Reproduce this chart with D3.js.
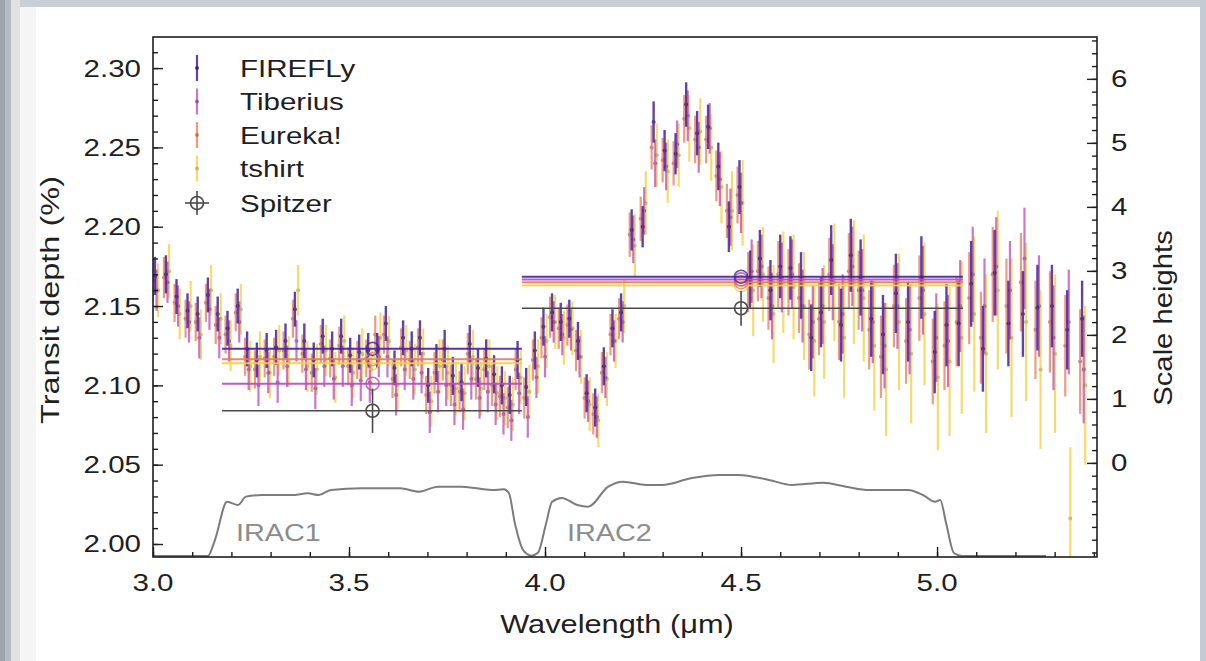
<!DOCTYPE html>
<html>
<head>
<meta charset="utf-8">
<script src="https://cdn.jsdelivr.net/npm/d3@7"></script>
<style>
  html, body { margin: 0; padding: 0; background: #ffffff; }
  svg { display: block; font-family: "Liberation Sans", Arial, Helvetica, sans-serif; }
</style>
</head>
<body>
<svg id="chart" width="1206" height="661"></svg>
<script>
// ---- spectral bins (µm) ----
const wavelengths = [
  3.005, 3.033, 3.060, 3.088, 3.114, 3.140, 3.165, 3.190, 3.216, 3.240, 3.265, 3.290, 3.314, 3.338, 3.362,
  3.386, 3.410, 3.433, 3.457, 3.480, 3.503, 3.526, 3.549, 3.572, 3.594, 3.616, 3.638, 3.660, 3.681, 3.702,
  3.723, 3.744, 3.765, 3.787, 3.808, 3.829, 3.850, 3.870, 3.890, 3.910, 3.930, 3.952, 3.974, 3.996,
  4.018, 4.040, 4.062, 4.084, 4.106, 4.128, 4.150, 4.172, 4.194,
  4.221, 4.249, 4.277, 4.305, 4.333, 4.360, 4.388, 4.416, 4.442, 4.469, 4.496, 4.523, 4.548, 4.575, 4.600,
  4.626, 4.653, 4.679, 4.704, 4.730, 4.755, 4.780, 4.805, 4.832, 4.862, 4.895, 4.926, 4.960, 4.994, 5.024,
  5.055, 5.087, 5.117, 5.147, 5.182, 5.219, 5.256, 5.293, 5.332, 5.370
];

// ---- transit depth (%) per reduction ----
const firefly = [
  2.169, 2.170, 2.156, 2.147, 2.145, 2.157, 2.145, 2.136, 2.150, 2.123, 2.116, 2.122, 2.124, 2.128, 2.148,
  2.128, 2.116, 2.131, 2.123, 2.131, 2.119, 2.121, 2.122, 2.122, 2.139, 2.111, 2.130, 2.123, 2.130, 2.100,
  2.114, 2.123, 2.106, 2.102, 2.126, 2.111, 2.117, 2.107, 2.100, 2.094, 2.116, 2.099, 2.122, 2.137,
  2.146, 2.140, 2.142, 2.128, 2.095, 2.086, 2.112, 2.136, 2.146,
  2.198, 2.200, 2.266, 2.248, 2.246, 2.277, 2.259, 2.263, 2.238, 2.200, 2.225, 2.167, 2.180, 2.160, 2.175,
  2.174, 2.163, 2.130, 2.146, 2.179, 2.138, 2.182, 2.168, 2.142, 2.132, 2.158, 2.140, 2.168, 2.121, 2.138,
  2.139, 2.164, 2.123, 2.171, 2.139, 2.145, 2.149, 2.150, 2.135, 2.142
];
const fireflyErr = [
  0.012, 0.012, 0.011, 0.011, 0.011, 0.011, 0.011, 0.011, 0.011, 0.011, 0.011, 0.011, 0.011, 0.011, 0.011,
  0.011, 0.011, 0.011, 0.011, 0.011, 0.011, 0.011, 0.011, 0.011, 0.011, 0.011, 0.011, 0.011, 0.011, 0.011,
  0.012, 0.012, 0.012, 0.012, 0.012, 0.012, 0.012, 0.012, 0.012, 0.012, 0.012, 0.012, 0.012, 0.012,
  0.012, 0.012, 0.012, 0.012, 0.012, 0.012, 0.012, 0.012, 0.012,
  0.013, 0.013, 0.013, 0.013, 0.013, 0.014, 0.014, 0.014, 0.015, 0.016, 0.017, 0.018, 0.018, 0.019, 0.020,
  0.020, 0.021, 0.021, 0.022, 0.022, 0.023, 0.023, 0.024, 0.024, 0.025, 0.025, 0.025, 0.026, 0.026, 0.026,
  0.027, 0.027, 0.027, 0.027, 0.027, 0.027, 0.027, 0.026, 0.025, 0.024
];

const tiberius = [
  2.160, 2.165, 2.150, 2.140, 2.130, 2.148, 2.130, 2.128, 2.140, 2.110, 2.100, 2.108, 2.102, 2.112, 2.128,
  2.110, 2.098, 2.112, 2.104, 2.112, 2.100, 2.103, 2.102, 2.118, 2.118, 2.094, 2.110, 2.104, 2.108, 2.083,
  2.096, 2.100, 2.088, 2.085, 2.104, 2.092, 2.096, 2.088, 2.082, 2.078, 2.095, 2.080, 2.105, 2.118,
  2.140, 2.132, 2.135, 2.118, 2.090, 2.080, 2.105, 2.128, 2.140,
  2.192, 2.210, 2.240, 2.238, 2.252, 2.270, 2.250, 2.262, 2.230, 2.206, 2.215, 2.172, 2.175, 2.150, 2.168,
  2.170, 2.150, 2.140, 2.150, 2.165, 2.145, 2.175, 2.160, 2.140, 2.125, 2.150, 2.135, 2.160, 2.130, 2.128,
  2.150, 2.170, 2.150, 2.175, 2.160, 2.180, 2.150, 2.130, 2.140, 2.110
];
const tiberiusErr = [
  0.013, 0.013, 0.013, 0.013, 0.013, 0.013, 0.013, 0.013, 0.013, 0.013, 0.013, 0.013, 0.013, 0.013, 0.013,
  0.013, 0.013, 0.013, 0.013, 0.013, 0.013, 0.013, 0.013, 0.013, 0.013, 0.013, 0.013, 0.013, 0.013, 0.013,
  0.013, 0.013, 0.013, 0.013, 0.013, 0.013, 0.013, 0.013, 0.013, 0.013, 0.013, 0.013, 0.013, 0.013,
  0.013, 0.013, 0.013, 0.013, 0.013, 0.013, 0.013, 0.013, 0.013,
  0.015, 0.015, 0.015, 0.015, 0.015, 0.016, 0.016, 0.016, 0.017, 0.018, 0.019, 0.020, 0.020, 0.021, 0.022,
  0.022, 0.023, 0.023, 0.024, 0.024, 0.025, 0.025, 0.026, 0.026, 0.027, 0.027, 0.028, 0.028, 0.028, 0.029,
  0.029, 0.030, 0.030, 0.031, 0.031, 0.032, 0.032, 0.033, 0.033, 0.034
];

const eureka = [
  2.166, 2.168, 2.152, 2.142, 2.140, 2.152, 2.138, 2.132, 2.146, 2.118, 2.110, 2.117, 2.118, 2.122, 2.142,
  2.120, 2.108, 2.126, 2.117, 2.125, 2.112, 2.116, 2.117, 2.132, 2.132, 2.104, 2.124, 2.116, 2.124, 2.094,
  2.108, 2.116, 2.100, 2.096, 2.120, 2.104, 2.110, 2.100, 2.093, 2.086, 2.110, 2.092, 2.116, 2.130,
  2.143, 2.136, 2.138, 2.122, 2.092, 2.082, 2.108, 2.132, 2.142,
  2.195, 2.205, 2.250, 2.242, 2.240, 2.268, 2.255, 2.255, 2.232, 2.210, 2.220, 2.165, 2.172, 2.155, 2.170,
  2.165, 2.155, 2.132, 2.142, 2.170, 2.140, 2.172, 2.160, 2.135, 2.118, 2.150, 2.128, 2.155, 2.115, 2.125,
  2.140, 2.155, 2.130, 2.170, 2.150, 2.165, 2.135, 2.140, 2.125, 2.115
];
const eurekaErr = [
  0.013, 0.013, 0.012, 0.012, 0.012, 0.012, 0.012, 0.012, 0.012, 0.012, 0.012, 0.012, 0.012, 0.012, 0.012,
  0.012, 0.012, 0.012, 0.012, 0.012, 0.012, 0.012, 0.012, 0.012, 0.012, 0.012, 0.012, 0.012, 0.012, 0.012,
  0.013, 0.013, 0.013, 0.013, 0.013, 0.013, 0.013, 0.013, 0.013, 0.013, 0.013, 0.013, 0.013, 0.013,
  0.013, 0.013, 0.013, 0.013, 0.013, 0.013, 0.013, 0.013, 0.013,
  0.014, 0.014, 0.014, 0.014, 0.014, 0.015, 0.015, 0.015, 0.016, 0.017, 0.018, 0.019, 0.019, 0.020, 0.021,
  0.021, 0.022, 0.022, 0.023, 0.023, 0.024, 0.024, 0.025, 0.025, 0.026, 0.026, 0.027, 0.027, 0.027, 0.028,
  0.028, 0.029, 0.029, 0.030, 0.030, 0.031, 0.031, 0.032, 0.032, 0.033
];

const tshirt = [
  2.160, 2.172, 2.145, 2.150, 2.132, 2.160, 2.142, 2.125, 2.148, 2.112, 2.118, 2.108, 2.122, 2.115, 2.160,
  2.112, 2.110, 2.122, 2.105, 2.128, 2.108, 2.120, 2.110, 2.130, 2.128, 2.100, 2.122, 2.110, 2.120, 2.090,
  2.112, 2.108, 2.098, 2.095, 2.118, 2.098, 2.112, 2.095, 2.092, 2.088, 2.105, 2.096, 2.112, 2.128,
  2.140, 2.130, 2.136, 2.118, 2.088, 2.078, 2.104, 2.128, 2.150,
  2.188, 2.215, 2.245, 2.235, 2.245, 2.262, 2.260, 2.250, 2.225, 2.210, 2.215, 2.160, 2.170, 2.145, 2.165,
  2.162, 2.150, 2.128, 2.140, 2.165, 2.130, 2.165, 2.155, 2.125, 2.110, 2.140, 2.120, 2.145, 2.105, 2.115,
  2.130, 2.145, 2.120, 2.160, 2.130, 2.140, 2.110, 2.120, 2.016, 2.100
];
const tshirtErr = [
  0.017, 0.017, 0.016, 0.016, 0.016, 0.016, 0.016, 0.016, 0.016, 0.016, 0.016, 0.016, 0.016, 0.016, 0.016,
  0.016, 0.016, 0.016, 0.016, 0.016, 0.016, 0.016, 0.016, 0.016, 0.016, 0.016, 0.016, 0.016, 0.016, 0.016,
  0.017, 0.017, 0.017, 0.017, 0.017, 0.017, 0.017, 0.017, 0.017, 0.017, 0.017, 0.017, 0.017, 0.017,
  0.017, 0.017, 0.017, 0.017, 0.017, 0.017, 0.017, 0.017, 0.017,
  0.020, 0.020, 0.020, 0.020, 0.020, 0.021, 0.021, 0.021, 0.023, 0.025, 0.027, 0.029, 0.030, 0.031, 0.032,
  0.033, 0.034, 0.035, 0.036, 0.037, 0.038, 0.039, 0.040, 0.041, 0.042, 0.043, 0.044, 0.045, 0.046, 0.047,
  0.048, 0.049, 0.050, 0.050, 0.050, 0.050, 0.050, 0.050, 0.045, 0.050
];

// ---- band-integrated depths (%) in the two IRAC bandpasses ----
const bandNames = ["IRAC1", "IRAC2"];
const bandCentre = [3.56, 4.50];
const bandStart = [3.176, 3.941];
const bandEnd = [3.941, 5.066];
const fireflyBand = [2.123, 2.1685];
const tiberiusBand = [2.101, 2.1668];
const eurekaBand = [2.1165, 2.1650];
const tshirtBand = [2.114, 2.1630];
const spitzerDepth = [2.084, 2.1486];
const spitzerErr = [0.014, 0.011];

// ---- IRAC relative spectral response ----
const irac1Wave = [3.000, 3.140, 3.158, 3.189, 3.217, 3.237, 3.278, 3.355, 3.395, 3.423, 3.454, 3.533, 3.630,
                   3.679, 3.727, 3.788, 3.865, 3.895, 3.908, 3.923, 3.944, 3.964];
const irac1Resp = [0.000, 0.000, 0.196, 0.666, 0.626, 0.728, 0.748, 0.748, 0.769, 0.748, 0.810, 0.831, 0.831,
                   0.789, 0.850, 0.850, 0.810, 0.818, 0.769, 0.405, 0.074, 0.000];
const irac2Wave = [3.964, 3.982, 4.003, 4.018, 4.043, 4.082, 4.110, 4.161, 4.199, 4.258, 4.298, 4.375, 4.444,
                   4.492, 4.571, 4.630, 4.709, 4.768, 4.827, 4.926, 4.964, 4.995, 5.008, 5.023, 5.043, 5.064, 5.278];
const irac2Resp = [0.000, 0.040, 0.405, 0.666, 0.712, 0.626, 0.605, 0.850, 0.912, 0.871, 0.871, 0.957, 0.994,
                   0.994, 0.933, 0.871, 0.899, 0.850, 0.810, 0.810, 0.748, 0.666, 0.687, 0.405, 0.037, 0.000, 0.000];

// ---- axis ticks ----
const xMajor = [3.0, 3.5, 4.0, 4.5, 5.0];
const yMajor = [2.00, 2.05, 2.10, 2.15, 2.20, 2.25, 2.30];
const shMajor = [0, 1, 2, 3, 4, 5, 6];

// ---- styling ----
const series = [
  { name: "tshirt",   vals: tshirt,   errs: tshirtErr,   band: tshirtBand,   color: "#f4cf3c", dx: 0.008,  w: 2.2, op: 0.75 },
  { name: "Eureka!",  vals: eureka,   errs: eurekaErr,   band: eurekaBand,   color: "#ec7a52", dx: -0.005, w: 2.2, op: 0.75 },
  { name: "Tiberius", vals: tiberius, errs: tiberiusErr, band: tiberiusBand, color: "#b84bb8", dx: 0.004,  w: 2.2, op: 0.75 },
  { name: "FIREFLy",  vals: firefly,  errs: fireflyErr,  band: fireflyBand,  color: "#46229c", dx: 0.0,    w: 2.4, op: 0.85 }
];
const legendOrder = ["FIREFLy", "Tiberius", "Eureka!", "tshirt"];

const W = 1206, H = 661;
const M = { left: 153, right: 1097, top: 37, bottom: 557 };
const SX = 1.23;          // horizontal text widening
const ink = "#1f1f1f";

const svg = d3.select("#chart");

// page card and side strips
svg.append("rect").attr("x", 0).attr("y", 0).attr("width", W).attr("height", H).attr("fill", "#ffffff");
svg.append("rect").attr("x", 0).attr("y", 0).attr("width", W).attr("height", 7).attr("fill", "#c9cfd6");
svg.append("rect").attr("x", 20).attr("y", 7).attr("width", 16).attr("height", H - 7).attr("fill", "#f5f5f5");
svg.append("rect").attr("x", 11).attr("y", 0).attr("width", 9).attr("height", H).attr("fill", "#e1e1e3");
svg.append("rect").attr("x", 5).attr("y", 0).attr("width", 6).attr("height", H).attr("fill", "#b3bbc5");
svg.append("rect").attr("x", 0).attr("y", 0).attr("width", 5).attr("height", H).attr("fill", "#9ea4ac");
svg.append("rect").attr("x", 1200).attr("y", 0).attr("width", 6).attr("height", H).attr("fill", "#c5cbd2");

const x = d3.scaleLinear().domain([3.0, 5.408]).range([M.left, M.right]);
const y = d3.scaleLinear().domain([1.9918, 2.3196]).range([M.bottom, M.top]);
const ySH = d3.scaleLinear().domain([-1.47, 6.654]).range([M.bottom, M.top]);
// response curves sit on the plot floor
const respBase = 1.99243, respSpan = 0.0514;

function label(parent, px, py, str, opt) {
  opt = opt || {};
  const g = parent.append("g")
    .attr("transform", `translate(${px},${py}) rotate(${opt.rotate || 0}) scale(${opt.sx || SX},1)`);
  return g.append("text")
    .attr("x", 0).attr("y", 0)
    .attr("text-anchor", opt.anchor || "start")
    .attr("font-size", opt.size || 24)
    .attr("fill", opt.fill || ink)
    .text(str);
}

const clip = svg.append("clipPath").attr("id", "plotClip")
  .append("rect").attr("x", M.left).attr("y", M.top)
  .attr("width", M.right - M.left).attr("height", M.bottom - M.top);

const plot = svg.append("g").attr("clip-path", "url(#plotClip)");

// IRAC bandpass curves
const respLine = d3.line()
  .x(d => x(d[0]))
  .y(d => y(respBase + d[1] * respSpan))
  .curve(d3.curveMonotoneX);
plot.append("path")
  .datum(d3.zip(irac1Wave, irac1Resp))
  .attr("d", respLine).attr("fill", "none").attr("stroke", "#7c7c7c").attr("stroke-width", 2);
plot.append("path")
  .datum(d3.zip(irac2Wave, irac2Resp))
  .attr("d", respLine).attr("fill", "none").attr("stroke", "#7c7c7c").attr("stroke-width", 2);

label(svg, 236, 541, bandNames[0], { fill: "#8c8c8c", size: 24, sx: 1.2 });
label(svg, 567, 541, bandNames[1], { fill: "#8c8c8c", size: 24, sx: 1.2 });

// spectra: error bars and points
series.forEach(s => {
  const g = plot.append("g").attr("opacity", s.op);
  const pts = wavelengths.map((w, i) => ({ w: w + s.dx, v: s.vals[i], e: s.errs[i] }));
  g.selectAll("line.err").data(pts).join("line")
    .attr("x1", d => x(d.w)).attr("x2", d => x(d.w))
    .attr("y1", d => y(d.v - d.e)).attr("y2", d => y(d.v + d.e))
    .attr("stroke", s.color).attr("stroke-width", s.w);
  g.selectAll("circle.pt").data(pts).join("circle")
    .attr("cx", d => x(d.w)).attr("cy", d => y(d.v)).attr("r", 2)
    .attr("fill", d3.color(s.color).darker(0.6));
});

// band-integrated depths
series.forEach(s => {
  bandNames.forEach((b, i) => {
    plot.append("line")
      .attr("x1", x(bandStart[i])).attr("x2", x(bandEnd[i]))
      .attr("y1", y(s.band[i])).attr("y2", y(s.band[i]))
      .attr("stroke", s.color).attr("stroke-width", 2).attr("opacity", 0.9);
    plot.append("circle")
      .attr("cx", x(bandCentre[i])).attr("cy", y(s.band[i])).attr("r", 6.5)
      .attr("fill", "none").attr("stroke", s.color).attr("stroke-width", 1.6).attr("opacity", 0.8);
  });
});

// Spitzer points
bandNames.forEach((b, i) => {
  const g = plot.append("g").attr("stroke", "#4a4a4a").attr("fill", "none").attr("stroke-width", 1.6);
  g.append("line").attr("x1", x(bandStart[i])).attr("x2", x(bandEnd[i]))
    .attr("y1", y(spitzerDepth[i])).attr("y2", y(spitzerDepth[i])).attr("stroke-width", 1.4);
  g.append("line").attr("x1", x(bandCentre[i])).attr("x2", x(bandCentre[i]))
    .attr("y1", y(spitzerDepth[i] - spitzerErr[i])).attr("y2", y(spitzerDepth[i] + spitzerErr[i]));
  g.append("circle").attr("cx", x(bandCentre[i])).attr("cy", y(spitzerDepth[i])).attr("r", 6.5);
});

// axes: ticks point inward
function styleAxis(g) {
  g.select(".domain").remove();
  g.selectAll(".tick line").attr("stroke", ink).attr("stroke-width", 1.4);
}
const minorX = d3.range(30, 55).map(v => v / 10);
const minorY = d3.range(200, 232).map(v => v / 100);
const minorSH = d3.range(-7, 34).map(v => v / 5);

svg.append("g").attr("transform", `translate(0,${M.bottom})`)
  .call(d3.axisBottom(x).tickValues(minorX).tickSize(-5).tickFormat("")).call(styleAxis);
svg.append("g").attr("transform", `translate(0,${M.bottom})`)
  .call(d3.axisBottom(x).tickValues(xMajor).tickSize(-10).tickFormat("")).call(styleAxis);
svg.append("g").attr("transform", `translate(${M.left},0)`)
  .call(d3.axisLeft(y).tickValues(minorY).tickSize(-5).tickFormat("")).call(styleAxis);
svg.append("g").attr("transform", `translate(${M.left},0)`)
  .call(d3.axisLeft(y).tickValues(yMajor).tickSize(-10).tickFormat("")).call(styleAxis);
svg.append("g").attr("transform", `translate(${M.right},0)`)
  .call(d3.axisRight(ySH).tickValues(minorSH).tickSize(-5).tickFormat("")).call(styleAxis);
svg.append("g").attr("transform", `translate(${M.right},0)`)
  .call(d3.axisRight(ySH).tickValues(shMajor).tickSize(-10).tickFormat("")).call(styleAxis);

// frame
svg.append("rect").attr("x", M.left).attr("y", M.top)
  .attr("width", M.right - M.left).attr("height", M.bottom - M.top)
  .attr("fill", "none").attr("stroke", ink).attr("stroke-width", 1.6);

// tick labels
xMajor.forEach(v => label(svg, x(v), M.bottom + 34, d3.format(".1f")(v), { anchor: "middle" }));
yMajor.forEach(v => label(svg, M.left - 12, y(v) + 8.5, d3.format(".2f")(v), { anchor: "end" }));
shMajor.forEach(v => label(svg, M.right + 14, ySH(v) + 8.5, String(v), { anchor: "start" }));

// axis titles
label(svg, (M.left + M.right) / 2 - 8, 633, "Wavelength (\u03bcm)", { anchor: "middle", size: 25 });
label(svg, 59, 300, "Transit depth (%)", { anchor: "middle", size: 25, rotate: -90, sx: 1.3 });
label(svg, 1172, 318, "Scale heights", { anchor: "middle", size: 25, rotate: -90, sx: 1.17 });

// legend
const leg = svg.append("g");
const rowY = [68, 101.5, 135, 168.5, 203];
legendOrder.forEach((n, i) => {
  const s = series.find(d => d.name === n);
  leg.append("line").attr("x1", 197).attr("x2", 197)
    .attr("y1", rowY[i] - 13).attr("y2", rowY[i] + 13)
    .attr("stroke", s.color).attr("stroke-width", 2.2).attr("opacity", s.op);
  leg.append("circle").attr("cx", 197).attr("cy", rowY[i]).attr("r", 2)
    .attr("fill", d3.color(s.color).darker(0.6)).attr("opacity", s.op);
  label(leg, 240, rowY[i] + 8.5, n, { size: 24 });
});
{
  const cy = rowY[4];
  const g = leg.append("g").attr("stroke", "#4a4a4a").attr("fill", "none").attr("stroke-width", 1.6);
  g.append("line").attr("x1", 185).attr("x2", 209).attr("y1", cy).attr("y2", cy);
  g.append("line").attr("x1", 197).attr("x2", 197).attr("y1", cy - 12).attr("y2", cy + 12);
  g.append("circle").attr("cx", 197).attr("cy", cy).attr("r", 6.5);
  label(leg, 240, cy + 8.5, "Spitzer", { size: 24 });
}
</script>
</body>
</html>
